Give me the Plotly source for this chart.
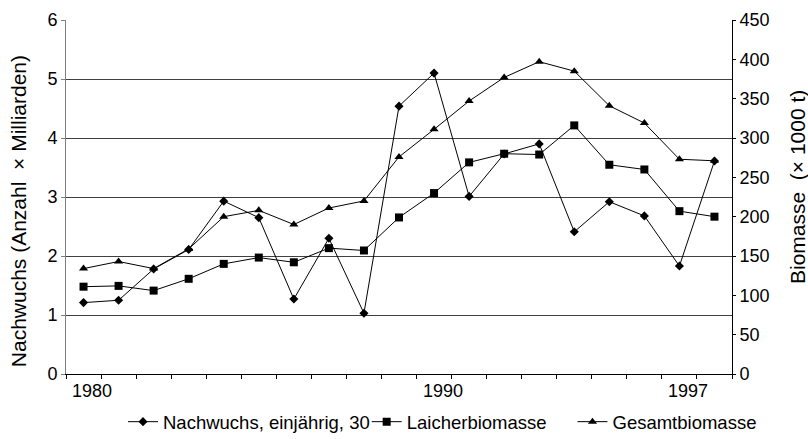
import plotly.graph_objects as go

years = list(range(1980, 1999))
nachwuchs = [1.21, 1.25, 1.78, 2.11, 2.93, 2.65, 1.27, 2.30, 1.03, 4.54, 5.10, 3.01, 3.73,
             3.90, 2.41, 2.92, 2.68, 1.83, 3.61]
laicher = [111, 112, 106, 121, 140, 148, 142, 160, 157, 199, 230, 269, 280, 279, 316, 266,
           260, 207, 200]
gesamt = [134, 143, 134, 159, 200, 208, 190, 211, 220, 276, 311, 347, 377, 397, 385, 341,
          319, 273, 271]
year_labels = ["1980", "1990", "1997"]
year_label_pos = [1980, 1990, 1997]

FONT = "Liberation Sans, Arial, sans-serif"

fig = go.Figure()
fig.add_trace(go.Scatter(x=years, y=nachwuchs, name="Nachwuchs, einjährig, 30",
                         mode="lines+markers", line=dict(color="black", width=1),
                         marker=dict(symbol="diamond", size=7, color="black"),
                         yaxis="y", legend="legend"))
fig.add_trace(go.Scatter(x=years, y=laicher, name="Laicherbiomasse",
                         mode="lines+markers", line=dict(color="black", width=1),
                         marker=dict(symbol="square", size=8, color="black"),
                         yaxis="y2", legend="legend2"))
fig.add_trace(go.Scatter(x=years, y=gesamt, name="Gesamtbiomasse",
                         mode="lines+markers", line=dict(color="black", width=1),
                         marker=dict(symbol="triangle-up", size=8, color="black"),
                         yaxis="y2", legend="legend3"))

for lab, pos in zip(year_labels, year_label_pos):
    fig.add_annotation(x=pos + 0.25, y=0, xref="x", yref="y", text=lab, showarrow=False,
                       yshift=-17, font=dict(family=FONT, size=18, color="black"))

# axis titles
fig.add_annotation(x=-0.072, y=0.46, xref="paper", yref="paper",
                   text="Nachwuchs (Anzahl\u00a0\u00a0×\u00a0Milliarden)", textangle=-90,
                   showarrow=False, xanchor="center", yanchor="middle",
                   font=dict(family=FONT, size=21, color="black"))
fig.add_annotation(x=1.0975, y=0.528, xref="paper", yref="paper",
                   text="Biomasse\u00a0\u00a0(× 1000 t)", textangle=-90,
                   showarrow=False, xanchor="center", yanchor="middle",
                   font=dict(family=FONT, size=21, color="black"))

leg_common = dict(orientation="h", xanchor="left", y=-0.136, yanchor="middle",
                  font=dict(size=18.5), itemwidth=30, bgcolor="rgba(0,0,0,0)")

fig.update_layout(
    width=808, height=439,
    margin=dict(l=66, r=76, t=20, b=65, autoexpand=False),
    paper_bgcolor="white", plot_bgcolor="white",
    font=dict(family=FONT, size=18, color="black"),
    showlegend=True,
    legend=dict(x=0.0856, **leg_common),
    legend2=dict(x=0.4515, **leg_common),
    legend3=dict(x=0.7605, **leg_common),
    xaxis=dict(range=[1979.5, 1998.5], tickvals=[1979.5 + i for i in range(20)],
               showticklabels=False, ticks="outside", ticklen=4, tickcolor="black",
               showline=True, linecolor="black", linewidth=1, showgrid=False, zeroline=False),
    yaxis=dict(range=[0, 6], tickvals=[0, 1, 2, 3, 4, 5, 6], ticks="outside", ticklen=4,
               tickcolor="#808080", showline=True, linecolor="#808080", linewidth=1,
               showgrid=True, gridcolor="#404040", gridwidth=1, zeroline=False,
               automargin=False),
    yaxis2=dict(range=[0, 450], tickvals=[0, 50, 100, 150, 200, 250, 300, 350, 400, 450],
                overlaying="y", side="right", ticks="outside", ticklen=3, tickcolor="black",
                showline=True, linecolor="black", linewidth=1, showgrid=False, zeroline=False,
                automargin=False),
)

fig.write_html("out.html", post_script="document.body.style.margin='0';",
               config={"displayModeBar": False})
